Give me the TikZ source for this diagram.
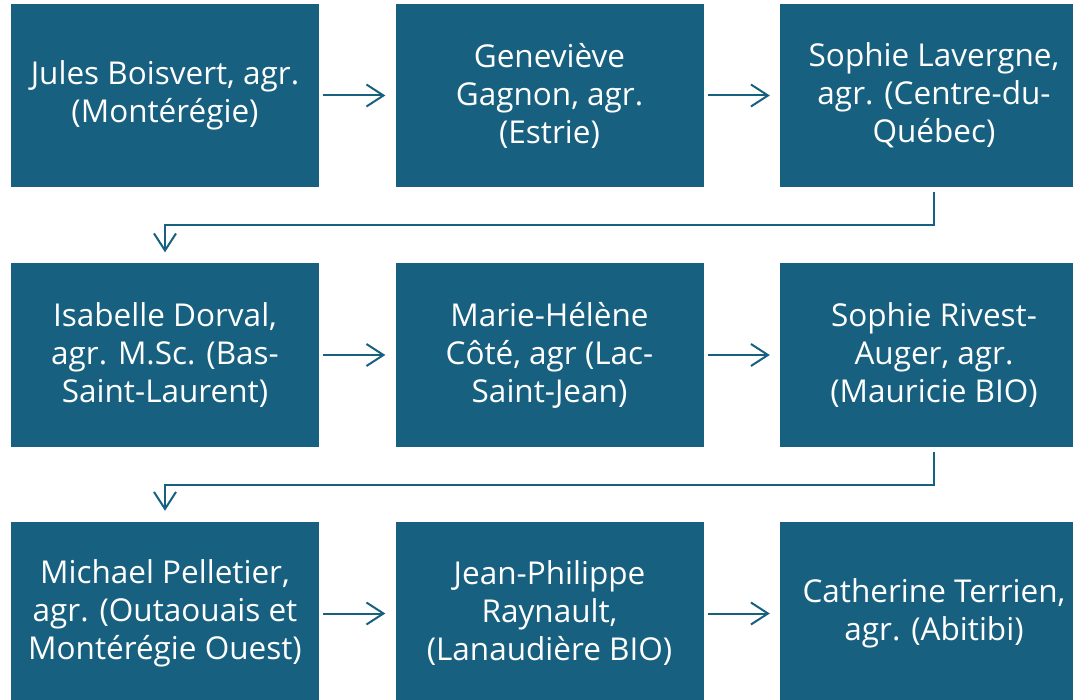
\documentclass[tikz,border=0pt]{standalone}
\usepackage{fontspec}
\setmainfont{Open Sans}
\usetikzlibrary{arrows.meta}
\definecolor{boxblue}{RGB}{23,96,127}
\tikzset{
  person/.style={fill=boxblue, text=white, align=center, inner sep=0pt,
    minimum width=308pt, minimum height=183pt,
    font=\fontsize{31.5}{38}\selectfont},
  flow/.style={draw=boxblue, line width=2pt,
    -{Straight Barb[length=17pt, width=22pt]}}
}
\begin{document}
\begin{tikzpicture}[x=1pt, y=-1pt]
      \useasboundingbox (0,0) rectangle (1073,700);
      \clip (0,0) rectangle (1073,700);
      \draw
        (165,95.5) node[person] (1){Jules Boisvert, agr.\\(Montérégie)}
        (549.5,95.5) node[person] (2){Geneviève\\Gagnon, agr.\\(Estrie)}
        (934,95.5) node[person] (3){Sophie Lavergne,\\agr. (Centre-du-\\Québec)}
        (165,355) node[person] (4){Isabelle Dorval,\\agr. M.Sc. (Bas-\\Saint-Laurent)}
        (549.5,355) node[person] (5){Marie-Hélène\\Côté, agr (Lac-\\Saint-Jean)}
        (934,355) node[person] (6){Sophie Rivest-\\Auger, agr.\\(Mauricie BIO)}
        (165,613.5) node[person] (7){Michael Pelletier,\\agr. (Outaouais et\\Montérégie Ouest)}
        (549.5,613.5) node[person] (8){Jean-Philippe\\Raynault,\\(Lanaudière BIO)}
        (934,613.5) node[person] (9){Catherine Terrien,\\agr. (Abitibi)};
      \begin{scope}[flow, shorten <=4pt, shorten >=10pt]
        \draw (1) to (2);
        \draw (2) to (3);
        \draw (4) to (5);
        \draw (5) to (6);
        \draw (7) to (8);
        \draw (8) to (9);
      \end{scope}
      \begin{scope}[flow, shorten <=5pt, shorten >=11pt]
        \draw (3.south) -- ([yshift=-38pt]3.south) -| (4.north);
        \draw (6.south) -- ([yshift=-38pt]6.south) -| (7.north);
      \end{scope}
    \end{tikzpicture}
\end{document}
